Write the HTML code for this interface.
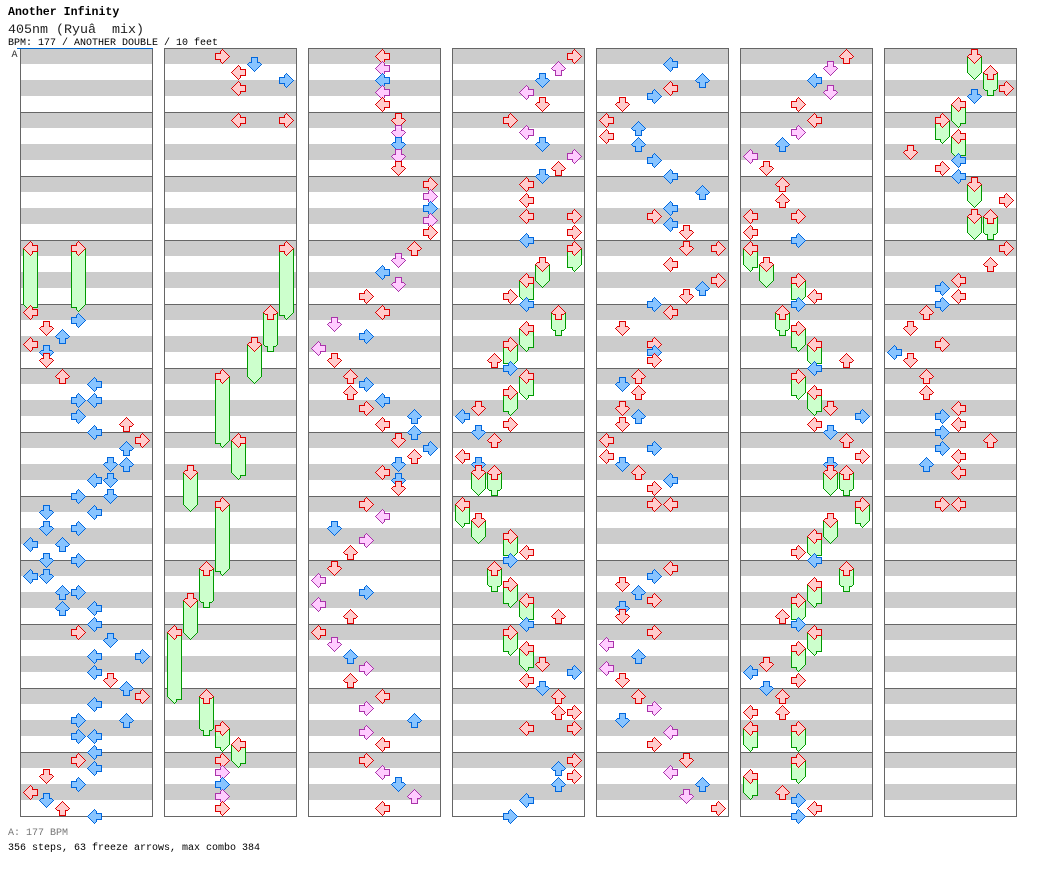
<!DOCTYPE html>
<html lang="en">
<head>
<meta charset="utf-8">
<title>Another Infinity - 405nm step chart</title>
<style>
html,body{margin:0;padding:0;background:#fff;width:1040px;height:876px;overflow:hidden}
svg{display:block}
text{font-family:"Liberation Mono","DejaVu Sans Mono",monospace;white-space:pre}
polygon,rect,line{shape-rendering:crispEdges}
</style>
</head>
<body>
<svg id="chart" xmlns="http://www.w3.org/2000/svg" width="1040" height="876" viewBox="0 0 1040 876">
<text x="8" y="15" font-size="11.6" font-weight="bold" fill="#000">Another Infinity</text>
<text x="8" y="33" font-size="13.33" fill="#222">405nm (Ryuâ  mix)</text>
<text x="8" y="45" font-size="10" fill="#000">BPM: 177 / ANOTHER DOUBLE / 10 feet</text>
<text x="11.5" y="57" font-size="10" fill="#333">A</text>
<text x="8" y="835" font-size="10" fill="#777">A: 177 BPM</text>
<text x="8" y="850" font-size="10" fill="#000">356 steps, 63 freeze arrows, max combo 384</text>
<g id="panels"></g>
<g id="marks"></g>
<line x1="17" y1="48.5" x2="153" y2="48.5" stroke="#0066cc" stroke-width="1"></line>
</svg>
<script>
// Each step is [beat, column]; each freeze is [beat, column, lengthInBeats].
const steps1 = [[16,0],[16.5,3],[17,1],[17.5,2],[18,0],[18.5,1],[19,1],[20,2],[20.5,4],[21.5,3],[21.5,4],[22.5,3],[23,6],[23.5,4],[24,7],[24.5,6],[25.5,5],[25.5,6],[26.5,4],[26.5,5],[27.5,3],[27.5,5],[28.5,1],[28.5,4],[29.5,1],[29.5,3],[30.5,0],[30.5,2],[31.5,1],[31.5,3],[32.5,0],[32.5,1],[33.5,2],[33.5,3],[34.5,2],[34.5,4],[35.5,4],[36,3],[36.5,5],[37.5,4],[37.5,7],[38.5,4],[39,5],[39.5,6],[40,7],[40.5,4],[41.5,3],[41.5,6],[42.5,3],[42.5,4],[43.5,4],[44,3],[44.5,4],[45,1],[45.5,3],[46,0],[46.5,1],[47,2],[47.5,4]];
const freezes1 = [[12,0,3.5],[12,3,3.5]];
const steps2 = [[0,3],[0.5,5],[1,4],[1.5,7],[2,4],[4,4],[4,7],[44,3],[44.75,3],[45.5,3],[46.25,3],[47,3]];
const freezes2 = [[12,7,4],[16,6,2],[18,5,2],[20,3,4],[24,4,2],[26,1,2],[28,3,4],[32,2,2],[34,1,2],[36,0,4],[40,2,2],[42,3,1],[43,4,1]];
const steps3 = [[0,4],[0.75,4],[1.5,4],[2.25,4],[3,4],[4,5],[4.75,5],[5.5,5],[6.25,5],[7,5],[8,7],[8.75,7],[9.5,7],[10.25,7],[11,7],[12,6],[12.75,5],[13.5,4],[14.25,5],[15,3],[16,4],[16.75,1],[17.5,3],[18.25,0],[19,1],[20,2],[20.5,3],[21,2],[21.5,4],[22,3],[22.5,6],[23,4],[23.5,6],[24,5],[24.5,7],[25,6],[25.5,5],[26,4],[26.5,5],[27,5],[28,3],[28.75,4],[29.5,1],[30.25,3],[31,2],[32,1],[32.75,0],[33.5,3],[34.25,0],[35,2],[36,0],[36.75,1],[37.5,2],[38.25,3],[39,2],[40,4],[40.75,3],[41.5,6],[42.25,3],[43,4],[44,3],[44.75,4],[45.5,5],[46.25,6],[47,4]];
const freezes3 = [];
const steps4 = [[0,7],[0.75,6],[1.5,5],[2.25,4],[3,5],[4,3],[4.75,4],[5.5,5],[6.25,7],[7,6],[7.5,5],[8,4],[9,4],[10,4],[10,7],[11,7],[11.5,4],[15,3],[15.5,4],[19,2],[19.5,3],[22,1],[22.5,0],[23,3],[23.5,1],[24,2],[25,0],[25.5,1],[31,4],[31.5,3],[35,6],[35.5,4],[38,5],[38.5,7],[39,4],[39.5,5],[40,6],[41,6],[41,7],[42,4],[42,7],[44,7],[44.5,6],[45,7],[45.5,6],[46.5,4],[47.5,3]];
const freezes4 = [[12,7,1],[13,5,1],[14,4,1],[16,6,1],[17,4,1],[18,3,1],[20,4,1],[21,3,1],[26,1,1],[26,2,1],[28,0,1],[29,1,1],[30,3,1],[32,2,1],[33,3,1],[34,4,1],[36,3,1],[37,4,1]];
const steps5 = [[0.5,4],[1.5,6],[2,4],[2.5,3],[3,1],[4,0],[4.5,2],[5,0],[5.5,2],[6.5,3],[7.5,4],[8.5,6],[9.5,4],[10,3],[10.5,4],[11,5],[12,5],[12,7],[13,4],[14,7],[14.5,6],[15,5],[15.5,3],[16,4],[17,1],[18,3],[18.5,3],[19,3],[20,2],[20.5,1],[21,2],[22,1],[22.5,2],[23,1],[24,0],[24.5,3],[25,0],[25.5,1],[26,2],[26.5,4],[27,3],[28,3],[28,4],[32,4],[32.5,3],[33,1],[33.5,2],[34,3],[34.5,1],[35,1],[36,3],[36.75,0],[37.5,2],[38.25,0],[39,1],[40,2],[40.75,3],[41.5,1],[42.25,4],[43,3],[44,5],[44.75,4],[45.5,6],[46.25,5],[47,7]];
const freezes5 = [];
const steps6 = [[0,6],[0.75,5],[1.5,4],[2.25,5],[3,3],[4,4],[4.75,3],[5.5,2],[6.25,0],[7,1],[8,2],[9,2],[10,0],[10,3],[11,0],[11.5,3],[15,4],[15.5,3],[19,6],[19.5,4],[22,5],[22.5,7],[23,4],[23.5,5],[24,6],[25,7],[25.5,5],[31,3],[31.5,4],[35,2],[35.5,3],[38,1],[38.5,0],[39,3],[39.5,1],[40,2],[41,0],[41,2],[46,2],[46.5,3],[47,4],[47.5,3]];
const freezes6 = [[12,0,1],[13,1,1],[14,3,1],[16,2,1],[17,3,1],[18,4,1],[20,3,1],[21,4,1],[26,5,1],[26,6,1],[28,7,1],[29,5,1],[30,4,1],[32,6,1],[33,4,1],[34,3,1],[36,4,1],[37,3,1],[42,0,1],[42,3,1],[44,3,1],[45,0,1]];
const steps7 = [[2,7],[2.5,5],[6,1],[6.5,4],[7,3],[7.5,4],[9,7],[12,7],[13,6],[14,4],[14.5,3],[15,4],[15.5,3],[16,2],[17,1],[18,3],[18.5,0],[19,1],[20,2],[21,2],[22,4],[22.5,3],[23,4],[23.5,3],[24,6],[24.5,3],[25,4],[25.5,2],[26,4],[28,3],[28,4]];
const freezes7 = [[0,5,1],[1,6,1],[3,4,1],[4,3,1],[5,4,1],[8,5,1],[10,5,1],[10,6,1]];

const panelSteps = [steps1, steps2, steps3, steps4, steps5, steps6, steps7];
const panelFreezes = [freezes1, freezes2, freezes3, freezes4, freezes5, freezes6, freezes7];
const measuresPerPanel = 12;
const beatsPerMeasure = 4;

const SVGNS = 'http://www.w3.org/2000/svg';
const panelsLayer = document.getElementById('panels');
const marksLayer = document.getElementById('marks');

function panelX(p) { return 20 + 144 * p; }
function xScale(p, col) { return panelX(p) + 10.5 + 16 * col; }
function yScale(beat) { return 56.5 + 16 * beat; }
const PANEL_TOP = 48;
const BEAT_PX = 16;
const PANEL_W = 132;

// Pixel masks of a right-pointing arrow; c and r are pixel offsets from its centre.
function outerRight(c, r) {
  const a = Math.abs(r);
  if (a > 7) return false;
  const right = 7 - a;
  let left;
  if (a <= 3) left = -7;
  else if (a <= 5) left = -2;
  else left = a === 6 ? -1 : 0;
  return c >= left && c <= right;
}
function innerRight(c, r) {
  const a = Math.abs(r);
  if (a >= 7) return false;
  const right = 6 - a;
  let left;
  if (a <= 2) left = -6;
  else if (a <= 5) left = -1;
  else left = 0;
  return c >= left && c <= right;
}
// Rotate a mask to a direction: 0 left, 1 down, 2 up, 3 right.
function directed(mask, dir) {
  if (dir === 3) return mask;
  if (dir === 0) return function (c, r) { return mask(-c, r); };
  if (dir === 1) return function (c, r) { return mask(r, c); };
  return function (c, r) { return mask(-r, c); };
}
function rowSpans(mask, from, to) {
  const spans = [];
  for (let r = from; r <= to; r++) {
    let lo = null, hi = null;
    for (let c = -8; c <= 8; c++) {
      if (mask(c, r)) { if (lo === null) lo = c; hi = c; }
    }
    if (lo !== null) spans.push([r, lo, hi]);
  }
  return spans;
}
function spansToPoints(spans, ox, oy) {
  const rightSide = [], leftSide = [];
  spans.forEach(function (s) {
    rightSide.push((ox + s[2] + 0.5) + ',' + (oy + s[0] - 0.5));
    rightSide.push((ox + s[2] + 0.5) + ',' + (oy + s[0] + 0.5));
    leftSide.unshift((ox + s[1] - 0.5) + ',' + (oy + s[0] - 0.5));
    leftSide.unshift((ox + s[1] - 0.5) + ',' + (oy + s[0] + 0.5));
  });
  return rightSide.concat(leftSide).join(' ');
}

function noteColors(beat) {
  const frac = beat - Math.floor(beat);
  if (frac === 0) return ['#ffcccc', '#dd0000'];
  if (frac === 0.5) return ['#88c4ff', '#0066dd'];
  return ['#ffccff', '#aa33aa'];
}

function drawPanel(p) {
  const g = document.createElementNS(SVGNS, 'g');
  
  
  const totalBeats = measuresPerPanel * beatsPerMeasure;
  for (let b = 0; b < totalBeats; b += 2) {
    const band = document.createElementNS(SVGNS, 'rect');
    
    
    band.setAttribute('x', panelX(p));
    band.setAttribute('y', PANEL_TOP + b * BEAT_PX);
    band.setAttribute('width', PANEL_W);
    band.setAttribute('height', BEAT_PX);
    band.setAttribute('fill', '#cccccc');
    g.appendChild(band);
  }
  for (let m = 0; m <= measuresPerPanel; m++) {
    const rule = document.createElementNS(SVGNS, 'line');
    
    
    const y = PANEL_TOP + m * beatsPerMeasure * BEAT_PX + 0.5;
    rule.setAttribute('x1', panelX(p));
    rule.setAttribute('x2', panelX(p) + PANEL_W + 1);
    rule.setAttribute('y1', y);
    rule.setAttribute('y2', y);
    rule.setAttribute('stroke', '#666666');
    g.appendChild(rule);
  }
  [0, PANEL_W].forEach(function (dx) {
    const side = document.createElementNS(SVGNS, 'line');
    
    
    side.setAttribute('x1', panelX(p) + dx + 0.5);
    side.setAttribute('x2', panelX(p) + dx + 0.5);
    side.setAttribute('y1', PANEL_TOP);
    side.setAttribute('y2', PANEL_TOP + totalBeats * BEAT_PX + 1);
    side.setAttribute('stroke', '#666666');
    g.appendChild(side);
  });
  panelsLayer.appendChild(g);
}

function drawArrow(p, col, beat) {
  const colors = noteColors(beat);
  const dir = col % 4;
  const x = xScale(p, col);
  const y = yScale(beat);
  const outline = document.createElementNS(SVGNS, 'polygon');
  
  
  outline.setAttribute('points', spansToPoints(rowSpans(directed(outerRight, dir), -7, 7), x, y));
  outline.setAttribute('fill', colors[1]);
  marksLayer.appendChild(outline);
  const fill = document.createElementNS(SVGNS, 'polygon');
  
  
  fill.setAttribute('points', spansToPoints(rowSpans(directed(innerRight, dir), -7, 7), x, y));
  fill.setAttribute('fill', colors[0]);
  marksLayer.appendChild(fill);
}

function drawFreeze(p, col, beat, len) {
  const dir = col % 4;
  const x = xScale(p, col);
  const y0 = yScale(beat);
  const y1 = yScale(beat + len);
  const rows = Math.round(y1 - y0);
  const outerSpans = [];
  const innerSpans = [];
  for (let r = 0; r < rows; r++) {
    outerSpans.push([r, -7, 7]);
    innerSpans.push([r, -6, 6]);
  }
  rowSpans(directed(outerRight, dir), 0, 7).forEach(function (s) { outerSpans.push([s[0] + rows, s[1], s[2]]); });
  rowSpans(directed(innerRight, dir), 0, 7).forEach(function (s) { innerSpans.push([s[0] + rows, s[1], s[2]]); });
  const body = document.createElementNS(SVGNS, 'polygon');
  
  
  body.setAttribute('points', spansToPoints(outerSpans, x, y0));
  body.setAttribute('fill', '#009900');
  marksLayer.appendChild(body);
  const inner = document.createElementNS(SVGNS, 'polygon');
  
  
  inner.setAttribute('points', spansToPoints(innerSpans, x, y0));
  inner.setAttribute('fill', '#ccffcc');
  marksLayer.appendChild(inner);
  drawArrow(p, col, beat);
}

panelSteps.forEach(function (stepList, p) {
  drawPanel(p);
  const items = [];
  stepList.forEach(function (s) { items.push({ beat: s[0], col: s[1], len: 0 }); });
  panelFreezes[p].forEach(function (f) { items.push({ beat: f[0], col: f[1], len: f[2] }); });
  items.sort(function (a, b) { return a.beat - b.beat; });
  items.forEach(function (it) {
    if (it.len > 0) drawFreeze(p, it.col, it.beat, it.len);
    else drawArrow(p, it.col, it.beat);
  });
});
</script>
</body>
</html>
